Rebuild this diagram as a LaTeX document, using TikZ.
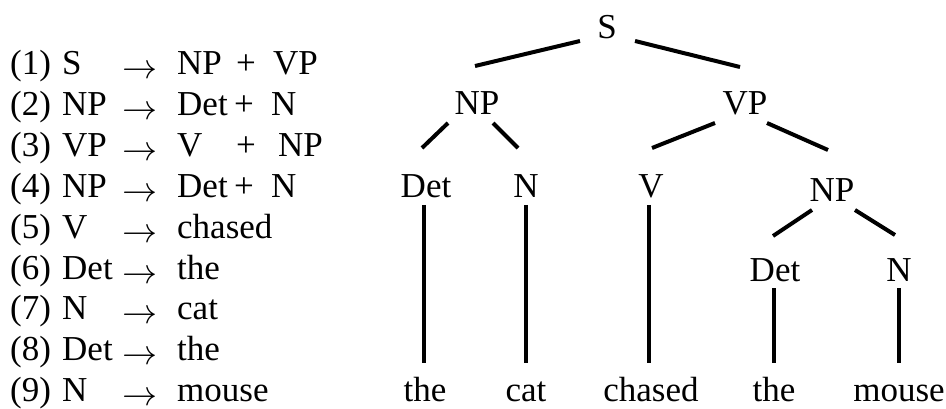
\RequirePackage{fix-cm}
\documentclass[tikz,border=0pt]{standalone}
\usepackage{fontspec}
\setmainfont{Liberation Serif}
\begin{document}
\begin{tikzpicture}[x=1pt,y=-1pt,
  lbl/.style={inner sep=0pt,anchor=base,font=\fontsize{35}{41}\selectfont},
  lft/.style={lbl,anchor=base west},
  branch/.style={line width=4pt},
  stem/.style={line width=3.2pt}]
\useasboundingbox (0,0) rectangle (946,409);

% ---- rewrite rules ----
\foreach \k/\lhs/\rhs [count=\i from 0] in
  {1/S/NP, 2/NP/Det, 3/VP/V, 4/NP/Det, 5/V/chased,
   6/Det/the, 7/N/cat, 8/Det/the, 9/N/mouse}{
  \pgfmathsetmacro{\yb}{75+40.8*\i}
  \node[lft] (num\k) at (10,\yb) {(\k)};
  \node[lft] (lhs\k) at (62,\yb) {\lhs};
  \node[lft] (arr\k) at (122,\yb) {\raisebox{-4pt}{$\rightarrow$}};
  \node[lft] (rhs\k) at (177,\yb) {\rhs};
}
\node[lft] (plus1) at (236,75) {+};
\node[lft] (rest1) at (273,75) {VP};
\node[lft] (plus2) at (234,115.8) {+};
\node[lft] (rest2) at (271,115.8) {N};
\node[lft] (plus3) at (236,156.6) {+};
\node[lft] (rest3) at (278,156.6) {NP};
\node[lft] (plus4) at (234,197.4) {+};
\node[lft] (rest4) at (271,197.4) {N};

% ---- phrase structure tree ----
\node[lbl] (S)    at (607,38.5) {S};
\node[lbl] (NPa)  at (477,115) {NP};
\node[lbl] (VP)   at (745,115) {VP};
\node[lbl] (Deta) at (426,197) {Det};
\node[lbl] (Na)   at (526,197) {N};
\node[lbl] (V)    at (651,197) {V};
\node[lbl] (NPb)  at (832,201) {NP};
\node[lbl] (Detb) at (775,281) {Det};
\node[lbl] (Nb)   at (899,281) {N};

\node[lbl] (w1) at (425,401.5) {the};
\node[lbl] (w2) at (526,401.5) {cat};
\node[lbl] (w3) at (651,401.5) {chased};
\node[lbl] (w4) at (774,401.5) {the};
\node[lbl] (w5) at (899,401.5) {mouse};

\draw[branch] ([shift={(-27,2.5)}]S.base)  -- ([shift={(-2,-49)}]NPa.base);
\draw[branch] ([shift={(28,2.5)}]S.base)   -- ([shift={(-5,-48)}]VP.base);
\draw[branch] ([shift={(-29,8)}]NPa.base)  -- ([shift={(-4,-49)}]Deta.base);
\draw[branch] ([shift={(16,8)}]NPa.base)   -- ([shift={(-8,-49)}]Na.base);
\draw[branch] ([shift={(-30,8)}]VP.base)   -- ([shift={(1,-49)}]V.base);
\draw[branch] ([shift={(22,8)}]VP.base)    -- ([shift={(-4,-51)}]NPb.base);
\draw[branch] ([shift={(-20,9)}]NPb.base)  -- ([shift={(-2,-45)}]Detb.base);
\draw[branch] ([shift={(23,9)}]NPb.base)   -- ([shift={(-4,-46)}]Nb.base);

\draw[stem] ([shift={(-2,8)}]Deta.base) -- ([shift={(-1,-39)}]w1.base);
\draw[stem] ([shift={(0,8)}]Na.base)    -- ([shift={(0,-39)}]w2.base);
\draw[stem] ([shift={(-2,8)}]V.base)    -- ([shift={(-2,-39)}]w3.base);
\draw[stem] ([shift={(-1,7)}]Detb.base) -- ([shift={(0,-39)}]w4.base);
\draw[line width=4.5pt] ([shift={(0,7)}]Nb.base) -- ([shift={(0,-39)}]w5.base);
\end{tikzpicture}
\end{document}
